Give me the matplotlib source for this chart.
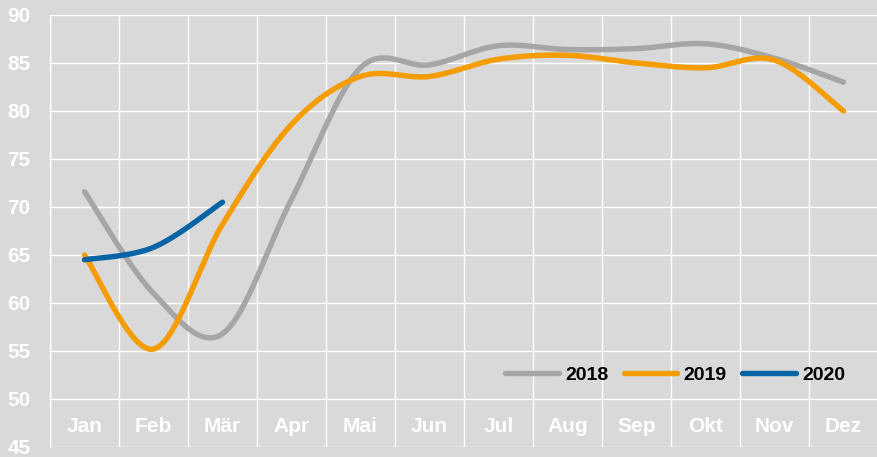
import numpy as np
import matplotlib
matplotlib.use("Agg")
import matplotlib.pyplot as plt

months = ["Jan", "Feb", "Mär", "Apr", "Mai", "Jun", "Jul", "Aug", "Sep", "Okt", "Nov", "Dez"]
s2018 = [71.6, 61.0, 56.8, 70.8, 84.5, 84.8, 86.8, 86.4, 86.5, 87.0, 85.5, 83.0]
s2019 = [65.0, 55.2, 68.2, 78.6, 83.6, 83.6, 85.4, 85.8, 85.0, 84.5, 85.3, 80.0]
s2020 = [64.5, 65.8, 70.5]
series = [("2018", s2018, "#A6A6A6"), ("2019", s2019, "#F59C00"), ("2020", s2020, "#0563A6")]
yticks = [45, 50, 55, 60, 65, 70, 75, 80, 85, 90]


def smooth(x, y, n=40):
    # Excel-style smoothed line: cubic Bezier segments with Catmull-Rom tangents (1/6)
    x = np.asarray(x, float)
    y = np.asarray(y, float)
    pts = np.column_stack([x, y])
    m = len(pts)
    out = [pts[0]]
    t = np.linspace(0, 1, n)[1:, None]
    for i in range(m - 1):
        p0 = pts[i - 1] if i > 0 else pts[i]
        p1 = pts[i]
        p2 = pts[i + 1]
        p3 = pts[i + 2] if i + 2 < m else pts[i + 1]
        c1 = p1 + (p2 - p0) / 6.0
        c2 = p2 - (p3 - p1) / 6.0
        seg = ((1 - t) ** 3) * p1 + 3 * ((1 - t) ** 2) * t * c1 + 3 * (1 - t) * t ** 2 * c2 + t ** 3 * p2
        out.extend(seg)
    out = np.array(out)
    return out[:, 0], out[:, 1]


plt.rcParams['font.family'] = ['Liberation Sans', 'DejaVu Sans']
bg = "#D9D9D9"
fig = plt.figure(figsize=(8.78, 4.57), dpi=100, facecolor=bg)
W, H = 878, 457
ax = fig.add_axes([50 / W, (457 - 447) / H, (878 - 50) / W, (447 - 15) / H])
ax.set_facecolor(bg)

xmax = -0.5 + 828 / 69.2
ax.set_xlim(-0.5, xmax)
ax.set_ylim(45, 90)

for sp in ax.spines.values():
    sp.set_visible(False)
ax.spines['left'].set_visible(True)
ax.spines['left'].set_color("white")
ax.spines['left'].set_linewidth(1.0)

ax.set_yticks(yticks)
ax.set_yticklabels([str(v) for v in yticks])
ax.tick_params(axis='y', length=0, pad=14, labelcolor="white", labelsize=15)
for lab in ax.get_yticklabels():
    lab.set_fontweight("bold")
ax.yaxis.grid(True, color="white", linewidth=1.0)

ax.set_xticks(np.arange(len(months) + 1) - 0.5)
ax.set_xticklabels([])
ax.tick_params(axis='x', length=0)
ax.xaxis.grid(True, color="white", linewidth=1.0)
ax.set_axisbelow(True)

for i, m in enumerate(months):
    ax.text(i, 47.1, m, ha='center', va='center', color="white", fontsize=15, fontweight='bold')

for name, vals, col in series:
    xs, ys = smooth(np.arange(len(vals)), vals)
    ax.plot(xs, ys, color=col, linewidth=3.9, solid_capstyle='round', label=name, clip_on=False)

leg = ax.legend(loc='center', bbox_to_anchor=(0.755, 0.167), ncol=3, frameon=False,
                handlelength=2.75, handletextpad=0.32, columnspacing=0.8,
                prop={'weight': 'bold', 'size': 14})
for t in leg.get_texts():
    t.set_color("black")

fig.savefig("out.png", dpi=100, facecolor=bg)
